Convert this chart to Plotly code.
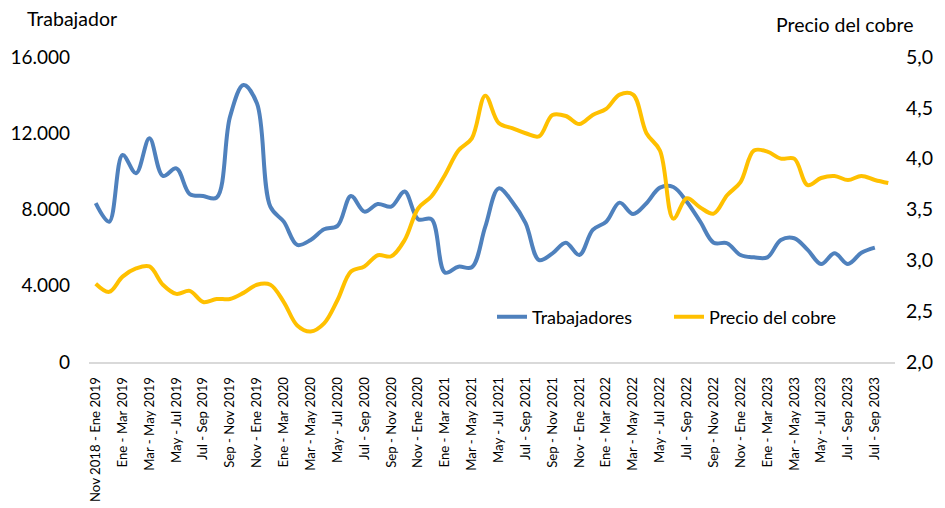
import plotly.graph_objects as go

categories = [
    "Nov 2018 - Ene 2019", "Dic 2018 - Feb 2019", "Ene - Mar 2019", "Feb - Abr 2019",
    "Mar - May 2019", "Abr - Jun 2019", "May - Jul 2019", "Jun - Ago 2019",
    "Jul - Sep 2019", "Ago - Oct 2019", "Sep - Nov 2019", "Oct - Dic 2019",
    "Nov 2019 - Ene 2020", "Dic 2019 - Feb 2020", "Ene - Mar 2020", "Feb - Abr 2020",
    "Mar - May 2020", "Abr - Jun 2020", "May - Jul 2020", "Jun - Ago 2020",
    "Jul - Sep 2020", "Ago - Oct 2020", "Sep - Nov 2020", "Oct - Dic 2020",
    "Nov 2020 - Ene 2021", "Dic 2020 - Feb 2021", "Ene - Mar 2021", "Feb - Abr 2021",
    "Mar - May 2021", "Abr - Jun 2021", "May - Jul 2021", "Jun - Ago 2021",
    "Jul - Sep 2021", "Ago - Oct 2021", "Sep - Nov 2021", "Oct - Dic 2021",
    "Nov 2021 - Ene 2022", "Dic 2021 - Feb 2022", "Ene - Mar 2022", "Feb - Abr 2022",
    "Mar - May 2022", "Abr - Jun 2022", "May - Jul 2022", "Jun - Ago 2022",
    "Jul - Sep 2022", "Ago - Oct 2022", "Sep - Nov 2022", "Oct - Dic 2022",
    "Nov 2022 - Ene 2023", "Dic 2022 - Feb 2023", "Ene - Mar 2023", "Feb - Abr 2023",
    "Mar - May 2023", "Abr - Jun 2023", "May - Jul 2023", "Jun - Ago 2023",
    "Jul - Sep 2023", "Ago - Oct 2023", "Sep - Nov 2023", "Oct - Dic 2023",
]

tick_labels = [
    "Nov 2018 - Ene 2019", "Ene - Mar 2019", "Mar - May 2019", "May - Jul 2019",
    "Jul - Sep 2019", "Sep - Nov 2019", "Nov - Ene 2019", "Ene - Mar 2020",
    "Mar - May 2020", "May - Jul 2020", "Jul - Sep 2020", "Sep - Nov 2020",
    "Nov - Ene 2020", "Ene - Mar 2021", "Mar - May 2021", "May - Jul 2021",
    "Jul - Sep 2021", "Sep - Nov 2021", "Nov - Ene 2021", "Ene - Mar 2022",
    "Mar - May 2022", "May - Jul 2022", "Jul - Sep 2022", "Sep - Nov 2022",
    "Nov - Ene 2022", "Ene - Mar 2023", "Mar - May 2023", "May - Jul 2023",
    "Jul - Sep 2023", "Jul - Sep 2023",
]

trabajadores = [
    8330, 7360, 10860, 9900, 11740, 9760, 10160, 8810, 8710, 8620,
    12870, 14530, 13570, 8150, 7360, 6140, 6400, 6960, 7140, 8710,
    7890, 8290, 8150, 8940, 7490, 7490, 4690, 5000, 4970, 7100,
    9110, 8410, 7280, 5350, 5700, 6260, 5610, 6930, 7360, 8360,
    7760, 8330, 9150, 9180, 8410, 7360, 6260, 6230, 5610, 5490,
    5490, 6400, 6490, 5880, 5140, 5700, 5140, 5730, 6000,
]

precio_cobre = [
    2.77, 2.69, 2.84, 2.92, 2.94, 2.76, 2.67, 2.70, 2.59, 2.62,
    2.62, 2.68, 2.76, 2.76, 2.59, 2.36, 2.30, 2.38, 2.61, 2.89,
    2.94, 3.05, 3.04, 3.20, 3.51, 3.63, 3.84, 4.08, 4.20, 4.62,
    4.35, 4.30, 4.25, 4.22, 4.43, 4.42, 4.34, 4.43, 4.49, 4.63,
    4.63, 4.25, 4.08, 3.41, 3.61, 3.52, 3.46, 3.64, 3.77, 4.08,
    4.07, 4.00, 4.00, 3.74, 3.81, 3.83, 3.79, 3.83, 3.79, 3.76,
]

left_ticks = [0, 4000, 8000, 12000, 16000]
right_ticks = [2.0, 2.5, 3.0, 3.5, 4.0, 4.5, 5.0]

FONT = "Lato"
BLUE = "#4F81BD"
GOLD = "#FFC000"

fig = go.Figure()
fig.add_trace(go.Scatter(
    x=categories[:len(trabajadores)], y=trabajadores, name="Trabajadores",
    mode="lines", line=dict(color=BLUE, width=4, shape="spline", smoothing=1.0),
    yaxis="y",
))
fig.add_trace(go.Scatter(
    x=categories[:len(precio_cobre)], y=precio_cobre, name="Precio del cobre",
    mode="lines", line=dict(color=GOLD, width=4, shape="spline", smoothing=1.0),
    yaxis="y2",
))

fig.update_layout(
    width=937, height=500,
    margin=dict(l=81, r=50, t=49, b=146, autoexpand=False),
    paper_bgcolor="white", plot_bgcolor="white",
    separators=",.",
    font=dict(family=FONT, color="#000000", size=18),
    showlegend=True,
    legend=dict(
        orientation="h", x=0.50, xanchor="left", y=0.1475, yanchor="middle",
        font=dict(family=FONT, size=18, color="#000000"),
        bgcolor="rgba(0,0,0,0)", entrywidth=132, entrywidthmode="pixels",
    ),
    xaxis=dict(
        type="category", categoryorder="array", categoryarray=categories,
        range=[-0.5, len(categories) - 0.5],
        tickmode="array", tickvals=categories[0::2], ticktext=tick_labels,
        tickangle=-90, tickfont=dict(family=FONT, size=13.2, color="#000000"),
        showgrid=False, zeroline=False, showline=True, linecolor="#D9D9D9",
        linewidth=1.5, ticks="", ticklabelstandoff=8,
    ),
    yaxis=dict(
        range=[0, 16000], tickmode="array", tickvals=left_ticks,
        tickformat=",.0f", showgrid=False, zeroline=False, showline=False,
        ticks="", tickfont=dict(family=FONT, size=19, color="#000000"),
        ticklabelstandoff=18,
    ),
    yaxis2=dict(
        range=[2.0, 5.0], tickmode="array", tickvals=right_ticks,
        tickformat=".1f", overlaying="y", side="right", showgrid=False,
        zeroline=False, showline=False, ticks="",
        tickfont=dict(family=FONT, size=19.5, color="#000000"),
        ticklabelstandoff=10,
    ),
    annotations=[
        dict(text="Trabajador", xref="paper", yref="paper", x=-0.0794, y=1.125,
             xanchor="left", yanchor="middle", showarrow=False,
             font=dict(family=FONT, size=19.5, color="#000000")),
        dict(text="Precio del cobre", xref="paper", yref="paper", x=1.0248, y=1.105,
             xanchor="right", yanchor="middle", showarrow=False,
             font=dict(family=FONT, size=19.5, color="#000000")),
    ],
)

fig.write_html("out.html")
